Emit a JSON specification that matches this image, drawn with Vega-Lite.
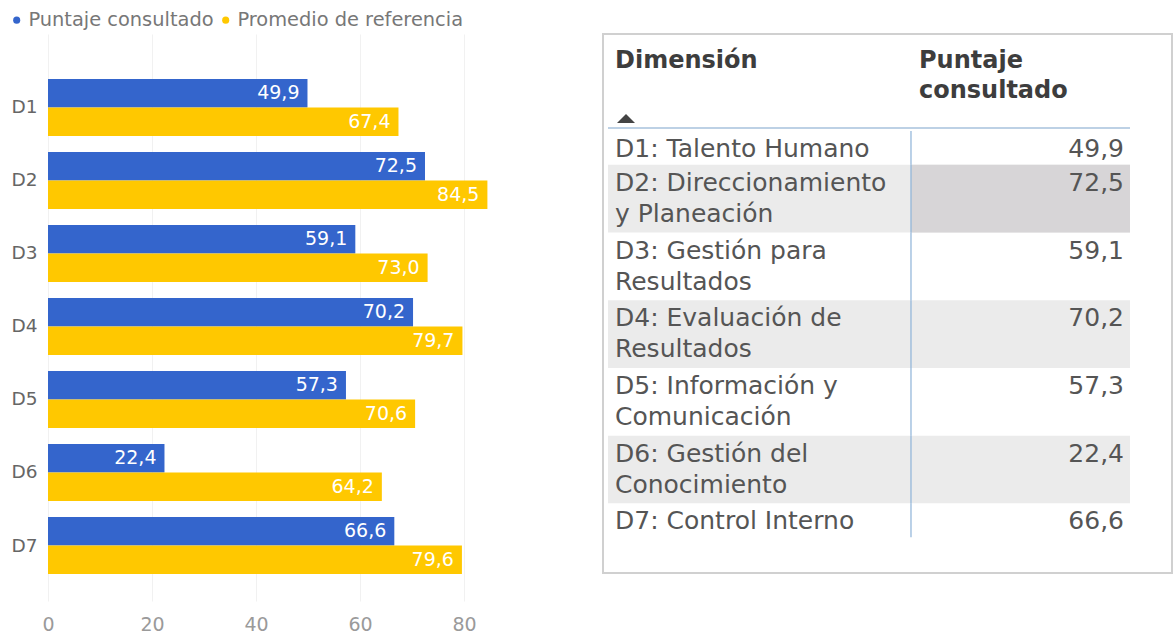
{
  "$schema": "https://vega.github.io/schema/vega-lite/v6.json",
  "padding": {"left": 7, "top": 10, "right": 0, "bottom": 0},
  "background": "white",
  "spacing": 112,
  "config": {
    "font": "DejaVu Sans",
    "view": {"stroke": null},
    "locale": {"number": {"decimal": ",", "thousands": ".", "grouping": [3], "currency": ["", " €"]}}
  },
  "datasets": {
    "barras": [
      {"dim": "D1", "serie": "Puntaje consultado", "valor": 49.9},
      {"dim": "D1", "serie": "Promedio de referencia", "valor": 67.4},
      {"dim": "D2", "serie": "Puntaje consultado", "valor": 72.5},
      {"dim": "D2", "serie": "Promedio de referencia", "valor": 84.5},
      {"dim": "D3", "serie": "Puntaje consultado", "valor": 59.1},
      {"dim": "D3", "serie": "Promedio de referencia", "valor": 73.0},
      {"dim": "D4", "serie": "Puntaje consultado", "valor": 70.2},
      {"dim": "D4", "serie": "Promedio de referencia", "valor": 79.7},
      {"dim": "D5", "serie": "Puntaje consultado", "valor": 57.3},
      {"dim": "D5", "serie": "Promedio de referencia", "valor": 70.6},
      {"dim": "D6", "serie": "Puntaje consultado", "valor": 22.4},
      {"dim": "D6", "serie": "Promedio de referencia", "valor": 64.2},
      {"dim": "D7", "serie": "Puntaje consultado", "valor": 66.6},
      {"dim": "D7", "serie": "Promedio de referencia", "valor": 79.6}
    ],
    "tabla": [
      {"dim": "D1", "dimension": "D1: Talento Humano", "puntaje": 49.9, "lineas": 1},
      {"dim": "D2", "dimension": "D2: Direccionamiento\ny Planeación", "puntaje": 72.5, "lineas": 2},
      {"dim": "D3", "dimension": "D3: Gestión para\nResultados", "puntaje": 59.1, "lineas": 2},
      {"dim": "D4", "dimension": "D4: Evaluación de\nResultados", "puntaje": 70.2, "lineas": 2},
      {"dim": "D5", "dimension": "D5: Información y\nComunicación", "puntaje": 57.3, "lineas": 2},
      {"dim": "D6", "dimension": "D6: Gestión del\nConocimiento", "puntaje": 22.4, "lineas": 2},
      {"dim": "D7", "dimension": "D7: Control Interno", "puntaje": 66.6, "lineas": 1}
    ]
  },
  "hconcat": [
    {
      "width": 442,
      "height": 567,
      "data": {"name": "barras"},
      "encoding": {
        "y": {
          "field": "dim", "type": "nominal",
          "scale": {"paddingInner": 0.219, "paddingOuter": 0.493, "align": 0.625},
          "axis": {"title": null, "domain": false, "ticks": false, "labelPadding": 11, "labelFontSize": 18.5, "labelColor": "#666666"}
        },
        "yOffset": {
          "field": "serie", "type": "nominal",
          "sort": ["Puntaje consultado", "Promedio de referencia"],
          "scale": {"paddingInner": 0, "paddingOuter": 0}
        },
        "x": {
          "field": "valor", "type": "quantitative",
          "scale": {"domain": [0, 85], "nice": false},
          "axis": {"title": null, "values": [0, 20, 40, 60, 80], "domain": false, "ticks": false, "labelFlush": false, "labelPadding": 14, "labelFontSize": 19, "labelColor": "#9a9a9a", "gridColor": "#f1f1f1", "gridWidth": 1}
        }
      },
      "layer": [
        {
          "mark": {"type": "bar"},
          "encoding": {
            "color": {
              "field": "serie", "type": "nominal",
              "scale": {"domain": ["Puntaje consultado", "Promedio de referencia"], "range": ["#3465CC", "#FFC800"]},
              "legend": {"orient": "none", "legendX": -41, "legendY": -24, "direction": "horizontal", "title": null, "symbolType": "circle", "symbolSize": 50, "labelFontSize": 19.4, "labelLimit": 0, "labelColor": "#777777", "columnPadding": 2, "labelOffset": 2, "padding": 0}
            }
          }
        },
        {
          "mark": {"type": "text", "align": "right", "baseline": "middle", "dx": -8, "color": "white", "fontSize": 19},
          "encoding": {"text": {"field": "valor", "type": "quantitative", "format": ".1f"}}
        }
      ]
    },
    {
      "width": 569,
      "height": 539,
      "view": {"stroke": "#d0d0d0", "strokeWidth": 2},
      "data": {"name": "tabla"},
      "transform": [
        {"stack": "lineas", "groupby": [], "sort": [{"field": "dim", "order": "ascending"}], "as": ["y0", "y1"]}
      ],
      "encoding": {
        "x": {"datum": "Dimensión", "type": "nominal", "bandPosition": 0,
              "scale": {"type": "band", "domain": ["Dimensión", "Puntaje consultado"], "paddingInner": 0, "paddingOuter": 0.09, "align": 0.106},
              "axis": null},
        "y": {"field": "y0", "type": "quantitative",
              "scale": {"domain": [-2.866, 13.058], "reverse": true, "nice": false, "zero": false},
              "axis": null}
      },
      "layer": [
        {
          "transform": [{"filter": "datum.dim == 'D2' || datum.dim == 'D4' || datum.dim == 'D6'"}],
          "mark": {"type": "rect", "color": "#ebebeb"},
          "encoding": {
            "x2": {"datum": "Puntaje consultado", "bandPosition": 1},
            "y2": {"field": "y1"}
          }
        },
        {
          "transform": [{"filter": "datum.dim == 'D2'"}],
          "mark": {"type": "rect", "color": "#d7d5d7", "xOffset": 42},
          "encoding": {
            "x": {"datum": "Puntaje consultado", "type": "nominal", "bandPosition": 0},
            "x2": {"datum": "Puntaje consultado", "bandPosition": 1},
            "y2": {"field": "y1"}
          }
        },
        {
          "mark": {"type": "rule", "color": "#8db2d8", "strokeWidth": 1.2, "xOffset": 42},
          "encoding": {
            "x": {"datum": "Puntaje consultado", "type": "nominal", "bandPosition": 0},
            "y2": {"field": "y1"}
          }
        },
        {
          "transform": [{"filter": "datum.dim == 'D1'"}],
          "mark": {"type": "rule", "color": "#a7c2dc", "strokeWidth": 1.5, "yOffset": -3},
          "encoding": {
            "x2": {"datum": "Puntaje consultado", "bandPosition": 1}
          }
        },
        {
          "mark": {"type": "text", "align": "left", "baseline": "alphabetic", "dx": 7, "dy": 26, "lineBreak": "\n", "lineHeight": 31, "fontSize": 25, "color": "#555555"},
          "encoding": {"text": {"field": "dimension", "type": "nominal"}}
        },
        {
          "mark": {"type": "text", "align": "right", "baseline": "alphabetic", "dx": -6, "dy": 26, "fontSize": 25, "color": "#555555"},
          "encoding": {
            "x": {"datum": "Puntaje consultado", "type": "nominal", "bandPosition": 1},
            "text": {"field": "puntaje", "type": "quantitative", "format": ".1f"}
          }
        },
        {
          "transform": [{"filter": "datum.dim == 'D1'"}],
          "mark": {"type": "text", "text": "Dimensión", "align": "left", "baseline": "alphabetic", "dx": 7, "dy": -63, "fontSize": 24, "fontWeight": "bold", "color": "#3d3d3d"}
        },
        {
          "transform": [{"filter": "datum.dim == 'D1'"}],
          "mark": {"type": "text", "text": ["Puntaje", "consultado"], "align": "left", "baseline": "alphabetic", "dx": 50, "dy": -63, "lineHeight": 30, "fontSize": 24, "fontWeight": "bold", "color": "#3d3d3d"},
          "encoding": {
            "x": {"datum": "Puntaje consultado", "type": "nominal", "bandPosition": 0}
          }
        },
        {
          "transform": [{"filter": "datum.dim == 'D1'"}],
          "mark": {"type": "point", "shape": "M-1,0.5L1,0.5L0,-0.5Z", "size": 324, "filled": true, "opacity": 1, "color": "#444444", "strokeWidth": 0, "xOffset": 18, "yOffset": -12.5}
        }
      ]
    }
  ]
}
